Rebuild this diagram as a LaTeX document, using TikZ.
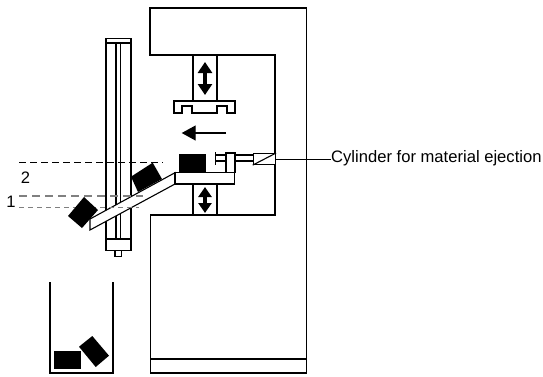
\documentclass[tikz,border=0pt]{standalone}
\usepackage{fontspec}
\setmainfont{Liberation Sans}
\usetikzlibrary{arrows.meta}
\tikzset{
  part/.style={draw=black,line width=1.1pt,fill=white,line join=miter},
  edge/.style={draw=black,line width=1.1pt},
  solid block/.style={fill=black,draw=none},
  guide/.style={draw=black,line width=.8pt,dash pattern=on 7pt off 4pt},
  gauge/.style={draw=black!50,line width=1.2pt,dash pattern=on 8pt off 5pt},
  gauge2/.style={draw=black!50,line width=1.2pt,dash pattern=on 5pt off 4pt},
  move/.style={line width=4.5pt,{Triangle[length=11pt,width=14pt]}-{Triangle[length=11pt,width=14pt]}},
  moveb/.style={line width=4.5pt,{Triangle[length=10pt,width=13pt]}-{Triangle[length=10pt,width=13pt]}},
  push/.style={line width=1.3pt,-{Triangle[length=14pt,width=15pt]}},
  label/.style={inner sep=0pt,font=\fontsize{16.6pt}{18pt}\selectfont}
}
\begin{document}
\begin{tikzpicture}[x=1pt,y=-1pt]
\useasboundingbox (0,0) rectangle (543,376);
% frame
\draw[part,fill=none] (275,55) -- (150,55) -- (150,8) -- (306.7,8) -- (306.7,373) -- (150.5,373) -- (150.5,215) -- (275,215) -- cycle;
\draw[edge] (150.5,359) -- (306.7,359);
% rail
\draw[part] (106,38.5) rectangle (131,250.5);
\draw[edge] (106,43) -- (131,43);
\draw[edge] (106,239) -- (131,239);
\draw[edge] (116,43) -- (116,239);
\draw[edge] (120.5,43) -- (120.5,239);
\draw[part] (115,250.5) rectangle (121.5,256.5);
% upper column
\draw[part] (193,55) rectangle (217,101);
\draw[part] (174,101) -- (174,113) -- (182,113) -- (182,106) -- (192,106) -- (192,113) -- (217,113) -- (217,106) -- (227,106) -- (227,113) -- (235,113) -- (235,101) -- cycle;
\draw[move] (205,62) -- (205,95);
\draw[push] (226,133) -- (181.7,133);
% lower column
\draw[part] (193,184) rectangle (217,215);
\draw[moveb] (205,187) -- (205,213);
% slide and table
\draw[part] (90,219) -- (90,230) -- (175,184) -- (175,172.7) -- cycle;
\draw[part] (175,172.7) rectangle (234.7,184);
% cylinder
\draw[edge] (215.5,152) -- (215.5,165);
\draw[edge] (215.5,155) -- (252.7,155);
\draw[edge] (215.5,161) -- (252.7,161);
\draw[part] (226,153) rectangle (235,172.7);
\node[part,minimum width=22.3pt,minimum height=11pt,inner sep=0pt,anchor=north west] (cyl) at (252.7,153) {};
\draw[edge] (cyl.south west) -- (cyl.north east);
% guides
\draw[guide] (19,162.3) -- (163,162.3);
\draw[gauge] (19,196) -- (143,196);
\draw[gauge2] (19,207.7) -- (139,207.7);
% blocks
\fill[solid block] (179,154) rectangle (206,172.7);
\fill[solid block] (131,176.7) -- (152.7,162.7) -- (162,179) -- (138,192) -- cycle;
\fill[solid block] (68,216) -- (84,197) -- (98,210) -- (82,228) -- cycle;
\fill[solid block] (54,350.7) rectangle (81,369);
\fill[solid block] (79,346.7) -- (92.3,336) -- (109,355.7) -- (95.7,367) -- cycle;
% bin
\draw[edge] (50,282) -- (50,373) -- (113,373) -- (113,282);
% labels
\node[label,anchor=base west] (lab) at (331,162.7) {Cylinder for material ejection};
\draw[edge] (cyl.east) -- (lab.west |- cyl.east);
\node[label] (two) at (25.6,177.5) {2};
\node[label] (one) at (11,201.5) {1};
\end{tikzpicture}
\end{document}
